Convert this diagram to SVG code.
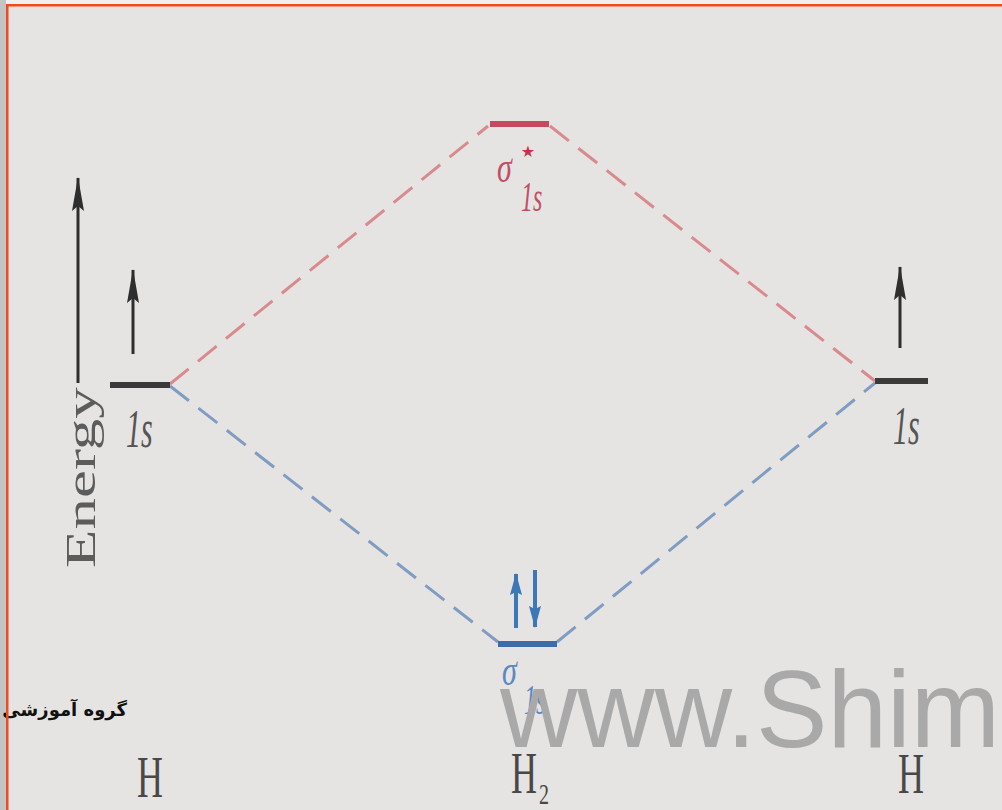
<svg xmlns="http://www.w3.org/2000/svg" width="1002" height="810" viewBox="0 0 1002 810">
<style>
.serif{font-family:"Liberation Serif","DejaVu Serif",serif}
.it{font-style:italic}
.lvl{stroke-width:6;stroke-linecap:butt;fill:none}
.dash{stroke-width:3;stroke-dasharray:24 12;fill:none}
.lab{fill:#484848;font-size:36px;text-anchor:middle}
</style>
<defs>
<marker id="hb" viewBox="0 0 34 12" refX="33" refY="6" markerWidth="34" markerHeight="12" markerUnits="userSpaceOnUse" orient="auto"><path d="M0,0 L34,6 L0,12 L5,6 z" fill="#2e2e2e"/></marker>
<marker id="hs" viewBox="0 0 22 12" refX="21" refY="6" markerWidth="22" markerHeight="12" markerUnits="userSpaceOnUse" orient="auto"><path d="M0,0 L22,6 L0,12 L3,6 z" fill="#3c78b8"/></marker>
</defs>
<rect width="1002" height="810" fill="#e6e4e2"/>
<rect x="0" y="0" width="1002" height="4" fill="#f2f0ee"/>
<rect x="0" y="0" width="6" height="810" fill="#c4c4c4"/>

<g id="connectors">
<line class="dash" x1="170" y1="384" x2="488" y2="126" stroke="#d98a8f"/>
<line class="dash" x1="550" y1="126" x2="875" y2="381" stroke="#d98a8f"/>
<line class="dash" x1="170" y1="386" x2="498" y2="642" stroke="#7f9cc2"/>
<line class="dash" x1="557" y1="642" x2="875" y2="383" stroke="#7f9cc2"/>
</g>

<g id="energy-axis">
<line x1="78" y1="383" x2="78" y2="178" stroke="#2e2e2e" stroke-width="3" marker-end="url(#hb)"/>
<text class="serif" transform="translate(95,568) scale(1,1.5) rotate(-90)" font-size="42" fill="#5c5c5c">Energy</text>
</g>

<g id="h-left-1s">
<line class="lvl" x1="110" y1="385" x2="170" y2="385" stroke="#3a3a3a"/>
<line x1="133" y1="354" x2="133" y2="270" stroke="#2e2e2e" stroke-width="3" marker-end="url(#hb)"/>
<text class="serif it" transform="translate(126,447) scale(1,1.8)" font-size="30" fill="#555">1s</text>
</g>

<g id="h-right-1s">
<line class="lvl" x1="875" y1="381" x2="928" y2="381" stroke="#3a3a3a"/>
<line x1="900" y1="348" x2="900" y2="267" stroke="#2e2e2e" stroke-width="3" marker-end="url(#hb)"/>
<text class="serif it" transform="translate(893,444) scale(1,1.8)" font-size="30" fill="#555">1s</text>
</g>

<g id="sigma-star">
<line class="lvl" x1="490" y1="124" x2="549" y2="124" stroke="#c84860" stroke-width="7"/>
<text class="serif it" transform="translate(497,182) scale(1,1.5)" font-size="30" fill="#c05068">σ</text>
<text transform="translate(528,157)" font-family="DejaVu Sans, sans-serif" font-size="16" text-anchor="middle" fill="#c83050">★</text>
<text class="serif it" transform="translate(521,211) scale(1,1.8)" font-size="24" fill="#c05068">1s</text>
</g>

<g id="sigma-bonding">
<line class="lvl" x1="498" y1="644" x2="557" y2="644" stroke="#3e6ca8" stroke-width="7"/>
<line x1="516" y1="628" x2="516" y2="574" stroke="#3c78b8" stroke-width="4" marker-end="url(#hs)"/>
<line x1="535" y1="570" x2="535" y2="627" stroke="#3c78b8" stroke-width="4" marker-end="url(#hs)"/>
<text class="serif it" transform="translate(502,685) scale(1,1.5)" font-size="30" fill="#5a88c0">σ</text>
<text class="serif it" transform="translate(524,714) scale(1,1.8)" font-size="24" fill="#5a88c0">1s</text>
</g>

<g id="label-h-left"><text class="serif lab" transform="translate(150,797) scale(1,1.65)">H</text></g>
<g id="label-h2"><text class="serif lab" transform="translate(524,793) scale(1,1.65)">H</text><text class="serif" transform="translate(544,804) scale(1,1.5)" font-size="20" fill="#484848" text-anchor="middle">2</text></g>
<g id="label-h-right"><text class="serif lab" transform="translate(911,793) scale(1,1.6)">H</text></g>

<text x="500" y="747" font-family="Liberation Sans, Arial, sans-serif" font-size="110" fill="#a9a9a9" textLength="500" lengthAdjust="spacingAndGlyphs">www.Shim</text>
<text x="127" y="716" font-family="DejaVu Sans, sans-serif" font-size="18" font-weight="bold" fill="#111" text-anchor="end">گروه آموزشی ش</text>

<rect x="6" y="4" width="2.5" height="806" fill="#f24a1e"/>
<rect x="6" y="4" width="996" height="2.5" fill="#f24a1e"/>
</svg>
